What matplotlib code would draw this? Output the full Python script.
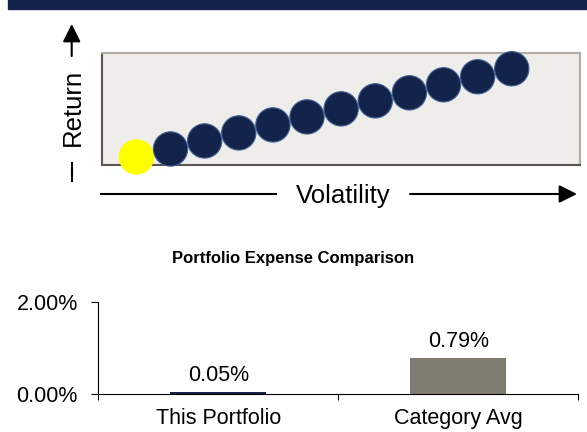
import matplotlib
matplotlib.use("Agg")
import matplotlib.pyplot as plt
from matplotlib.patches import Rectangle
from matplotlib.lines import Line2D

plt.rcParams['font.family'] = ['Liberation Sans', 'DejaVu Sans']

# risk / return dots (first one = this portfolio)
volatility = [1, 2, 3, 4, 5, 6, 7, 8, 9, 10, 11, 12]
returns = [1, 2, 3, 4, 5, 6, 7, 8, 9, 10, 11, 12]

# expense comparison
categories = ["This Portfolio", "Category Avg"]
expenses = [0.05, 0.79]
y_ticks = [0.0, 2.0]

navy = "#14234A"
W, H = 587, 432

fig = plt.figure(figsize=(W / 100, H / 100), dpi=100)


def px(x, y):
    # pixel from top-left -> figure fraction
    return x / W, 1 - y / H


# header band
fig.patches.append(Rectangle(px(8, 9), (W - 8) / W, 9 / H, transform=fig.transFigure,
                             color=navy, zorder=0))

# ---- risk/return box ----
l, t = px(102.3, 52.7)
r, b = px(580, 165)
ax1 = fig.add_axes([l, b, r - l, t - b])
ax1.set_facecolor("#EEEDEA")
ax1.set_xlim(0, 14)
ax1.set_ylim(0, 14)
ax1.set_xticks([])
ax1.set_yticks([])
for side in ["top", "right"]:
    ax1.spines[side].set_color("#B2ACA5")
    ax1.spines[side].set_linewidth(1.5)
for side in ["left", "bottom"]:
    ax1.spines[side].set_color("#5A5550")
    ax1.spines[side].set_linewidth(1.5)

colors = ["#FFFF00"] + [navy] * (len(volatility) - 1)
edges = ["#FFFF00"] + ["#3E5F94"] * (len(volatility) - 1)
ax1.scatter(volatility, returns, s=610, c=colors, edgecolors=edges, linewidths=0.8,
            clip_on=False, zorder=3)

# axis arrows drawn on the figure
def fline(x0, y0, x1, y1):
    p0, p1 = px(x0, y0), px(x1, y1)
    fig.lines.append(Line2D([p0[0], p1[0]], [p0[1], p1[1]], transform=fig.transFigure,
                            color="black", lw=1.5))


def farrow(x0, y0, x1, y1):
    fig.add_artist(plt.Annotation("", xy=px(x1, y1), xytext=px(x0, y0),
                                  xycoords="figure fraction", textcoords="figure fraction",
                                  arrowprops=dict(arrowstyle="-|>,head_length=0.6,head_width=0.3",
                                                  color="black", lw=1.5, mutation_scale=18,
                                                  shrinkA=0, shrinkB=0)))


farrow(71.7, 56, 71.7, 24)
fline(71.7, 163, 71.7, 181)
fig.text(*px(73, 107), "Return", rotation=90, ha="center", va="center", fontsize=18.5)

fline(100.7, 194, 276, 194)
farrow(410, 194, 577, 194)
fig.text(*px(343, 196), "Volatility", ha="center", va="center", fontsize=18.5)

# ---- expense bars ----
l, t = px(98.3, 301.7)
r, b = px(578.3, 394.3)
ax2 = fig.add_axes([l, b, r - l, t - b])
xpos = [0.5, 1.5]
ax2.bar(xpos, expenses, width=0.4, color=[navy, "#807B71"])
ax2.set_xlim(0, 2)
ax2.set_ylim(y_ticks[0], y_ticks[-1])
ax2.spines["top"].set_visible(False)
ax2.spines["right"].set_visible(False)
ax2.set_yticks(y_ticks)
ax2.set_yticklabels([f"{v:.2f}%" for v in y_ticks], fontsize=15.5)
ax2.set_xticks([0, 1, 2])
ax2.set_xticklabels([])
ax2.set_xticks(xpos, minor=True)
ax2.set_xticklabels(categories, minor=True, fontsize=15.5)
ax2.tick_params(axis="y", direction="out", length=4.8, width=0.8, pad=10)
ax2.tick_params(axis="x", which="major", direction="out", length=4, width=0.8)
ax2.tick_params(axis="x", which="minor", length=0, pad=10)
for x, v in zip(xpos, expenses):
    ax2.annotate(f"{v:.2f}%", (x, v), xytext=(0, 8), textcoords="offset points",
                 ha="center", va="baseline", fontsize=15.5)

fig.text(*px(293.5, 258), "Portfolio Expense Comparison", ha="center", va="center",
         fontsize=12, fontweight="bold")

fig.savefig("out.png", dpi=100)
